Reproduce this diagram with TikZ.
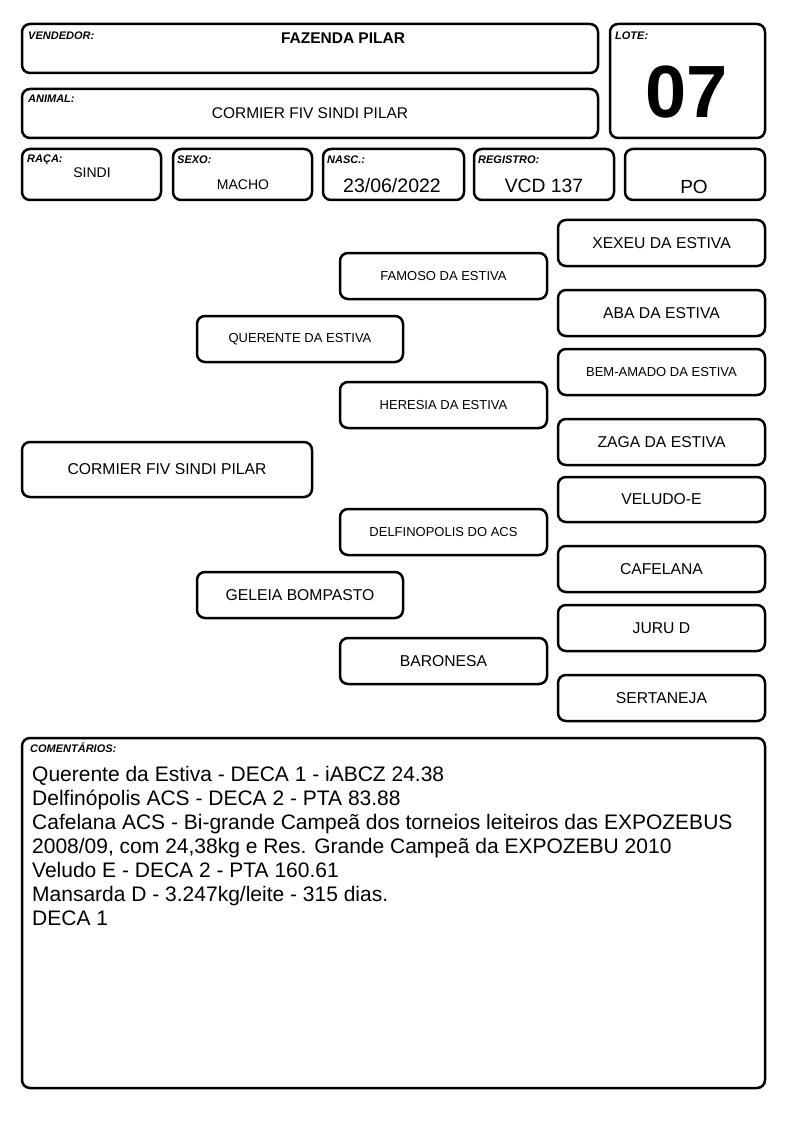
\documentclass[tikz,border=0pt]{standalone}
\usepackage{fontspec}
\setmainfont{Liberation Sans}
\begin{document}
\begin{tikzpicture}[x=1pt,y=-1pt,
  box/.style={draw=black, line width=2.5pt, rounded corners=8pt, inner sep=0pt, fill=white},
  fbig/.style={font=\fontsize{15.7}{18}\selectfont},
  fsmall/.style={font=\fontsize{13}{15}\selectfont},
  lbl/.style={anchor=base west, inner sep=0pt, font=\fontsize{11}{12}\selectfont\bfseries\itshape},
  val/.style={anchor=base, inner sep=0pt},
  cline/.style={anchor=base west, inner sep=0pt, font=\fontsize{21}{22.5}\selectfont}]
\useasboundingbox[fill=white] (0,0) rectangle (794,1123);
% header boxes
\node[box, minimum width=576pt, minimum height=49pt] (vend) at (310,48.5) {};
\node[box, minimum width=576pt, minimum height=49pt] (anim) at (310,113.5) {};
\node[box, minimum width=155pt, minimum height=114pt] (lote) at (687.5,81) {};
\node[box, minimum width=139pt, minimum height=51pt] (raca) at (91.5,174.5) {};
\node[box, minimum width=139pt, minimum height=51pt] (sexo) at (242.5,174.5) {};
\node[box, minimum width=141pt, minimum height=51pt] (nasc) at (393.5,174.5) {};
\node[box, minimum width=140pt, minimum height=51pt] (reg) at (544,174.5) {};
\node[box, minimum width=140pt, minimum height=51pt] (po) at (695,174.5) {};
% labels
\node[lbl] (lvend) at (28,40) {VENDEDOR:};
\node[lbl] (lanim) at (28,103) {ANIMAL:};
\node[lbl] (llote) at (615,40) {LOTE:};
\node[lbl] (lraca) at (27,163) {RAÇA:};
\node[lbl] (lsexo) at (177,164) {SEXO:};
\node[lbl] (lnasc) at (327,164) {NASC.:};
\node[lbl] (lreg) at (478,164) {REGISTRO:};
% values
\node[val, font=\fontsize{15.5}{18}\selectfont\bfseries] (tvend) at (343,44) {FAZENDA PILAR};
\node[val, font=\fontsize{15.5}{18}\selectfont] (tanim) at (310,119) {CORMIER FIV SINDI PILAR};
\node[val, font=\fontsize{74}{80}\selectfont\bfseries] (tlote) at (687,118) {07};
\node[val, font=\fontsize{14}{16}\selectfont] (traca) at (92,178) {SINDI};
\node[val, font=\fontsize{14}{16}\selectfont] (tsexo) at (243,190) {MACHO};
\node[val, font=\fontsize{19.5}{22}\selectfont] (tnasc) at (392,193) {23/06/2022};
\node[val, font=\fontsize{19.3}{22}\selectfont] (treg) at (544,193) {VCD 137};
\node[val, font=\fontsize{19}{22}\selectfont] (tpo) at (694,194) {PO};
% pedigree
\node[box, fbig, minimum width=290pt, minimum height=55pt] (animal) at (167,469.5) {CORMIER FIV SINDI PILAR};
\node[box, fsmall, minimum width=206pt, minimum height=46pt] (pai) at (300,339) {QUERENTE DA ESTIVA};
\node[box, fbig, minimum width=206pt, minimum height=46pt] (mae) at (300,595) {GELEIA BOMPASTO};
\node[box, fsmall, minimum width=207pt, minimum height=46pt] (avo1) at (443.5,276) {FAMOSO DA ESTIVA};
\node[box, fsmall, minimum width=207pt, minimum height=46pt] (avo2) at (443.5,405) {HERESIA DA ESTIVA};
\node[box, fsmall, minimum width=207pt, minimum height=46pt] (avo3) at (443.5,532) {DELFINOPOLIS DO ACS};
\node[box, fbig, minimum width=207pt, minimum height=46pt] (avo4) at (443.5,661) {BARONESA};
\node[box, fbig, minimum width=207pt, minimum height=46pt] (bis1) at (661.5,243) {XEXEU DA ESTIVA};
\node[box, fbig, minimum width=207pt, minimum height=46pt] (bis2) at (661.5,313) {ABA DA ESTIVA};
\node[box, fsmall, minimum width=207pt, minimum height=46pt] (bis3) at (661.5,372) {BEM-AMADO DA ESTIVA};
\node[box, fbig, minimum width=207pt, minimum height=46pt] (bis4) at (661.5,442) {ZAGA DA ESTIVA};
\node[box, fbig, minimum width=207pt, minimum height=45pt] (bis5) at (661.5,499.5) {VELUDO-E};
\node[box, fbig, minimum width=207pt, minimum height=46pt] (bis6) at (661.5,569) {CAFELANA};
\node[box, fbig, minimum width=207pt, minimum height=46pt] (bis7) at (661.5,628) {JURU D};
\node[box, fbig, minimum width=207pt, minimum height=46pt] (bis8) at (661.5,698) {SERTANEJA};
% comments
\node[box, minimum width=743pt, minimum height=350pt] (com) at (393.5,913) {};
\node[lbl] (lcom) at (30,752) {COMENTÁRIOS:};
\node[cline] (c1) at (32,781) {Querente da Estiva - DECA 1 - iABCZ 24.38};
\node[cline] (c2) at (32,805) {Delfinópolis ACS - DECA 2 - PTA 83.88};
\node[cline] (c3) at (32,829) {Cafelana ACS - Bi-grande Campeã dos torneios leiteiros das EXPOZEBUS};
\node[cline] (c4) at (32,853) {2008/09, com 24,38kg e Res. Grande Campeã da EXPOZEBU 2010};
\node[cline] (c5) at (32,877) {Veludo E - DECA 2 - PTA 160.61};
\node[cline] (c6) at (32,901) {Mansarda D - 3.247kg/leite - 315 dias.};
\node[cline] (c7) at (32,925) {DECA 1};
\end{tikzpicture}
\end{document}
